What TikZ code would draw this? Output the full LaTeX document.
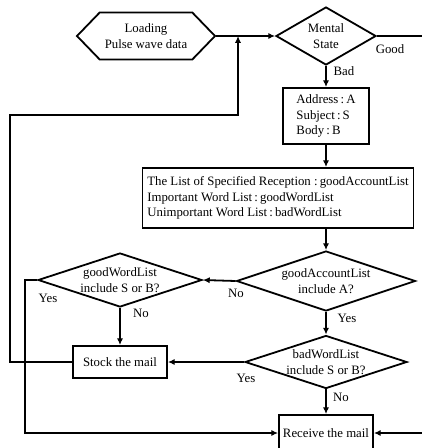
\documentclass[tikz,border=0pt]{standalone}
\usepackage{fontspec}
\setmainfont{Liberation Serif}
\usetikzlibrary{arrows.meta,positioning,calc,shapes.geometric,shapes.symbols}
\tikzset{
  base/.style={draw=black,line width=1.8pt,font=\fontsize{12.8}{15.5}\selectfont,inner sep=2pt},
  procbox/.style={base,rectangle,align=left},
  decision/.style={base,diamond,inner sep=0pt,align=center,aspect=3},
  loadbox/.style={base,signal,signal to=west and east,signal pointer angle=92,align=center},
  flow/.style={-{Latex[length=2.4mm,width=2.2mm]},line width=1.8pt},
  plain/.style={line width=1.8pt},
  tag/.style={font=\fontsize{12.8}{15}\selectfont,inner sep=0pt}
}

\begin{document}
\begin{tikzpicture}[x=1pt,y=-1pt]
  \useasboundingbox (0,0) rectangle (422,448);

  \node[loadbox,minimum width=138,minimum height=47] (load) at (146,36)
    {Loading\\Pulse wave data};
  \node[decision,minimum width=100,minimum height=58,aspect=1.7] (mental) at (326,36)
    {Mental\\State};
  \node[procbox,minimum width=86,minimum height=56] (addr) at (326,116)
    {Address\,:\,A\\Subject\,:\,S\\Body\,:\,B};
  \node[procbox,minimum width=271,minimum height=60] (lists) at (278,198)
    {The List of Specified Reception :\,goodAccountList\\Important Word List\,:\,goodWordList\\Unimportant Word List\,:\,badWordList};
  \node[decision,minimum width=179,minimum height=60] (acct) at (326,281)
    {goodAccountList\\include A?};
  \node[decision,minimum width=164,minimum height=54] (gword) at (120,280)
    {goodWordList\\include S or B?};
  \node[decision,minimum width=162,minimum height=53] (bword) at (326,362)
    {badWordList\\include S or B?};
  \node[procbox,minimum width=94,minimum height=32] (stock) at (120,362)
    {Stock the mail};
  \node[procbox,minimum width=94,minimum height=36] (recv) at (326,433)
    {Receive the mail};

  \coordinate (merge) at (238,36);
  \coordinate (ret) at (10,115);
  \coordinate (yesx) at (25,0);
  \coordinate (goodend) at (422,36);
  \coordinate (rightin) at (422,433);

  \draw[flow] (load.east) -- (mental.west);
  \draw[plain] (mental.east) -- (goodend);
  \draw[flow] (mental.south) -- (addr.north);
  \draw[flow] (addr.south) -- (addr.south |- lists.north);
  \draw[flow] (acct.north |- lists.south) -- (acct.north);
  \draw[flow] (acct.west) -- (gword.east);
  \draw[flow] (gword.south) -- (stock.north);
  \draw[flow] (gword.west) -- (gword.west -| yesx) |- (recv.west);
  \draw[flow] (acct.south) -- (bword.north);
  \draw[flow] (bword.west) -- (stock.east);
  \draw[flow] (bword.south) -- (recv.north);
  \draw[flow] (rightin) -- (recv.east);
  \draw[flow] (stock.west) -| (ret) -| (merge);

  \node[tag] (lgood) at (390,49) {Good};
  \node[tag] (lbad) at (344,71) {Bad};
  \node[tag] (lno1) at (236,293) {No};
  \node[tag] (lyes1) at (48,298) {Yes};
  \node[tag] (lno2) at (141,313) {No};
  \node[tag] (lyes2) at (347,318) {Yes};
  \node[tag] (lyes3) at (246,378) {Yes};
  \node[tag] (lno3) at (341,397) {No};
\end{tikzpicture}
\end{document}
